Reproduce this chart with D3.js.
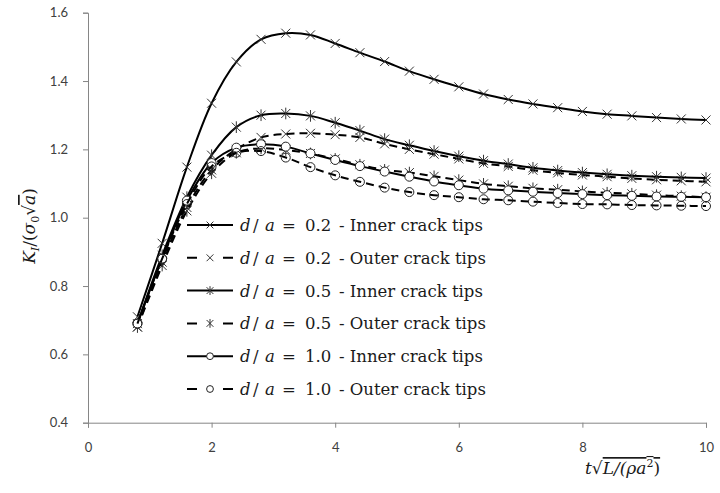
<!DOCTYPE html>
<html>
<head>
<meta charset="utf-8">
<script src="https://cdn.jsdelivr.net/npm/d3@7"></script>
<style>
  body { margin: 0; background: #fff; }
  .tick text { font-family: Lato, "Liberation Sans", sans-serif; font-size: 13px; fill: #404040; }
  .axis path, .axis line { stroke: #868686; }
  .mathText { font-family: "DejaVu Serif", serif; fill: #1a1a1a; }
</style>
</head>
<body>
<div id="chart"></div>
<script>
// time axis values (markers every 0.4)
var tValues = [0.8, 1.2, 1.6, 2.0, 2.4, 2.8, 3.2, 3.6, 4.0, 4.4, 4.8, 5.2,
               5.6, 6.0, 6.4, 6.8, 7.2, 7.6, 8.0, 8.4, 8.8, 9.2, 9.6, 10.0];

// K_I / (sigma0 sqrt(a))
var inner02 = [0.71, 0.925, 1.148, 1.335, 1.456, 1.522, 1.540, 1.535, 1.510, 1.483, 1.457, 1.429,
               1.405, 1.383, 1.362, 1.346, 1.333, 1.322, 1.311, 1.303, 1.298, 1.293, 1.289, 1.286];
var outer02 = [0.68, 0.87, 1.03, 1.14, 1.20, 1.235, 1.245, 1.247, 1.243, 1.235, 1.216, 1.200,
               1.186, 1.172, 1.159, 1.150, 1.139, 1.131, 1.125, 1.120, 1.115, 1.111, 1.108, 1.105];
var inner05 = [0.69, 0.89, 1.06, 1.183, 1.265, 1.300, 1.305, 1.298, 1.278, 1.255, 1.230, 1.212,
               1.195, 1.180, 1.167, 1.157, 1.146, 1.138, 1.132, 1.127, 1.123, 1.120, 1.118, 1.116];
var outer05 = [0.68, 0.86, 1.02, 1.13, 1.19, 1.203, 1.198, 1.188, 1.172, 1.155, 1.140, 1.132,
               1.121, 1.110, 1.099, 1.092, 1.086, 1.082, 1.077, 1.073, 1.070, 1.066, 1.063, 1.060];
var inner10 = [0.69, 0.88, 1.05, 1.16, 1.205, 1.215, 1.208, 1.188, 1.169, 1.151, 1.135, 1.120,
               1.106, 1.095, 1.085, 1.080, 1.076, 1.072, 1.069, 1.066, 1.064, 1.062, 1.061, 1.060];
var outer10 = [0.69, 0.88, 1.04, 1.15, 1.19, 1.195, 1.176, 1.148, 1.124, 1.105, 1.088, 1.075,
               1.066, 1.060, 1.054, 1.051, 1.047, 1.043, 1.040, 1.039, 1.037, 1.036, 1.035, 1.034];

var ratios = ["0.2", "0.2", "0.5", "0.5", "1.0", "1.0"];
var tipNames = ["Inner crack tips", "Outer crack tips", "Inner crack tips",
                "Outer crack tips", "Inner crack tips", "Outer crack tips"];
var xTicks = [0, 2, 4, 6, 8, 10];
var yTicks = [0.4, 0.6, 0.8, 1.0, 1.2, 1.4, 1.6];

var svgWidth = 720;
var svgHeight = 493;

var margin = {
	top: 12.7,
	right: 14,
	bottom: 70.3,
	left: 88
};

var width = svgWidth - margin.left - margin.right;
var height = svgHeight - margin.top - margin.bottom;

var svg = d3.select("#chart")
	.append("svg")
	.attr("width", svgWidth)
	.attr("height", svgHeight);

var chartGroup = svg.append("g")
	.attr("transform", `translate(${margin.left}, ${margin.top})`);

// Scales
var xLinearScale = d3.scaleLinear().domain([0, 10]).range([0, width]);
var yLinearScale = d3.scaleLinear().domain([0.4, 1.6]).range([height, 0]);

// Axes
var bottomAxis = d3.axisBottom(xLinearScale)
	.tickValues(xTicks)
	.tickFormat(d3.format("d"))
	.tickSize(5)
	.tickPadding(15);
var leftAxis = d3.axisLeft(yLinearScale)
	.tickValues(yTicks)
	.tickFormat(d3.format(".1f"))
	.tickSize(5)
	.tickPadding(15);

chartGroup.append("g")
	.attr("class", "axis")
	.attr("transform", `translate(0, ${height})`)
	.call(bottomAxis);

chartGroup.append("g")
	.attr("class", "axis")
	.call(leftAxis);

// series styling (built from the arrays above)
var seriesValues = [inner02, outer02, inner05, outer05, inner10, outer10];
var markerKinds = ["x", "x", "star", "star", "circle", "circle"];
var series = seriesValues.map(function(vals, i) {
	return {
		points: tValues.map(function(t, j) { return { t: t, v: vals[j] }; }),
		dashed: i % 2 === 1,
		marker: markerKinds[i],
		ratio: ratios[i],
		tips: tipNames[i]
	};
});

var line = d3.line()
	.x(d => xLinearScale(d.t))
	.y(d => yLinearScale(d.v))
	.curve(d3.curveCatmullRom.alpha(0.5));

function markerPath(kind, s) {
	var p = `M${-s},${-s}L${s},${s}M${-s},${s}L${s},${-s}`;
	if (kind === "star") p += `M0,${-s * 1.3}L0,${s * 1.3}`;
	return p;
}

function drawMarker(g, kind, dashed, s) {
	if (kind === "circle") {
		g.append("circle")
			.attr("r", s)
			.attr("fill", dashed ? "none" : "#fff")
			.attr("stroke", "#222")
			.attr("stroke-width", 1);
	} else {
		g.append("path")
			.attr("d", markerPath(kind, s))
			.attr("fill", "none")
			.attr("stroke", "#333")
			.attr("stroke-width", 1);
	}
}

series.forEach(function(s) {
	chartGroup.append("path")
		.datum(s.points)
		.attr("d", line)
		.attr("fill", "none")
		.attr("stroke", "#000")
		.attr("stroke-width", 2)
		.attr("stroke-dasharray", s.dashed ? "8,5" : null);

	chartGroup.selectAll(null)
		.data(s.points)
		.enter()
		.append("g")
		.attr("transform", d => `translate(${xLinearScale(d.t)}, ${yLinearScale(d.v)})`)
		.each(function() { drawMarker(d3.select(this), s.marker, s.dashed, 4.5); });
});

// Legend
var legend = svg.append("g").attr("transform", "translate(187, 225)");
series.forEach(function(s, i) {
	var row = legend.append("g").attr("transform", `translate(0, ${i * 32.8})`);
	row.append("line")
		.attr("x1", 0).attr("x2", 46)
		.attr("stroke", "#000")
		.attr("stroke-width", 2)
		.attr("stroke-dasharray", s.dashed ? "10,26" : null);
	var m = row.append("g").attr("transform", "translate(23, 0)");
	drawMarker(m, s.marker, s.dashed, 3.4);

	var txt = row.append("text")
		.attr("class", "mathText")
		.attr("y", 6)
		.style("font-size", "16.5px");
	txt.append("tspan").attr("x", 53).style("font-style", "italic").text("d");
	txt.append("tspan").attr("x", 66).text("/");
	txt.append("tspan").attr("x", 78).style("font-style", "italic").text("a");
	txt.append("tspan").attr("x", 95).text("=");
	txt.append("tspan").attr("x", 118).text(s.ratio);
	txt.append("tspan").attr("x", 152).text("- " + s.tips);
});

// Y axis label  K_I/(sigma_0 sqrt(a))
var yLabel = svg.append("text")
	.attr("class", "mathText")
	.attr("transform", "translate(35, 226) rotate(-90)")
	.attr("text-anchor", "middle")
	.style("font-size", "17px");
yLabel.append("tspan").style("font-style", "italic").text("K");
yLabel.append("tspan").style("font-style", "italic").style("font-size", "11px").attr("dy", 4).text("I");
yLabel.append("tspan").attr("dy", -4).text("/(");
yLabel.append("tspan").style("font-style", "italic").text("σ");
yLabel.append("tspan").style("font-size", "11px").attr("dy", 4).text("0");
yLabel.append("tspan").attr("dy", -4).text("√");
yLabel.append("tspan").style("font-style", "italic").style("text-decoration", "overline").text("a");
yLabel.append("tspan").text(")");

// X axis label  t sqrt(L/(rho a^2))
var xLabel = svg.append("text")
	.attr("class", "mathText")
	.attr("x", 585)
	.attr("y", 474)
	.style("font-size", "17px");
xLabel.append("tspan").style("font-style", "italic").text("t");
xLabel.append("tspan").text("√");
xLabel.append("tspan").style("font-style", "italic").style("text-decoration", "overline").text("L/(ρa");
xLabel.append("tspan").style("font-size", "11px").attr("dy", -7).style("text-decoration", "overline").text("2");
xLabel.append("tspan").attr("dy", 7).style("text-decoration", "overline").text(")");
</script>
</body>
</html>
